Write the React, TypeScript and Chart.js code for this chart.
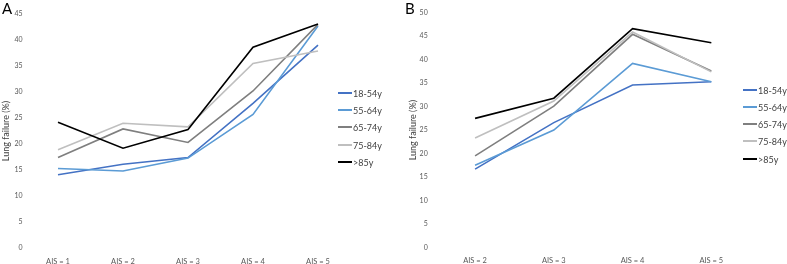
import React, { useEffect, useRef } from "react";
import { Chart, registerables } from "chart.js";
Chart.register(...registerables);

const seriesLabels = ["18-54y", "55-64y", "65-74y", "75-84y", ">85y"];
const seriesColors = ["#4472C4", "#5B9BD5", "#7F7F7F", "#BFBFBF", "#000000"];

// Panel A
const categoriesA = ["AIS = 1", "AIS = 2", "AIS = 3", "AIS = 4", "AIS = 5"];
const a18to54 = [14.1, 16.1, 17.4, 27.8, 39.0];
const a55to64 = [15.3, 14.8, 17.3, 25.7, 42.7];
const a65to74 = [17.4, 22.9, 20.3, 30.2, 43.0];
const a75to84 = [18.9, 24.0, 23.3, 35.5, 37.9];
const aOver85 = [24.2, 19.2, 22.8, 38.6, 43.1];

// Panel B
const categoriesB = ["AIS = 2", "AIS = 3", "AIS = 4", "AIS = 5"];
const b18to54 = [16.7, 26.6, 34.6, 35.3];
const b55to64 = [17.5, 25.0, 39.2, 35.3];
const b65to74 = [19.5, 30.1, 45.4, 37.6];
const b75to84 = [23.3, 31.2, 45.9, 37.4];
const bOver85 = [27.5, 31.8, 46.6, 43.6];

const FONT = "Lato, 'Open Sans', sans-serif";

type PanelProps = {
  left: number;
  width: number;
  categories: string[];
  series: number[][];
  yMax: number;
  padTop: number;
  padRight: number;
  yAxisWidth: number;
  xAxisHeight: number;
  tickPad: number;
  titlePadTop: number;
  letter: string;
  letterX: number;
  legendX: number;
  legendY: number[];
};

function Panel(p: PanelProps) {
  const ref = useRef<HTMLCanvasElement | null>(null);
  useEffect(() => {
    if (!ref.current) return;
    const chart = new Chart(ref.current, {
      type: "line",
      data: {
        labels: p.categories,
        datasets: p.series.map((d, i) => ({
          label: seriesLabels[i],
          data: d,
          borderColor: seriesColors[i],
          backgroundColor: seriesColors[i],
          borderWidth: 1.6,
          pointRadius: 0,
          tension: 0,
          order: 4 - i,
        })),
      },
      options: {
        animation: false,
        responsive: false,
        devicePixelRatio: 1,
        layout: { padding: { top: p.padTop, right: p.padRight, left: 0, bottom: 0 } },
        plugins: { legend: { display: false }, tooltip: { enabled: false } },
        scales: {
          x: {
            type: "category",
            offset: true,
            grid: { display: false, drawTicks: false },
            border: { display: false },
            ticks: {
              padding: 9,
              color: "#595959",
              font: { family: FONT, size: 7.5 },
              maxRotation: 0,
              autoSkip: false,
            },
            afterFit: (s: any) => {
              s.height = p.xAxisHeight;
            },
          },
          y: {
            min: 0,
            max: p.yMax,
            grid: { display: false, drawTicks: false },
            border: { display: false },
            ticks: {
              stepSize: 5,
              padding: p.tickPad,
              color: "#595959",
              font: { family: FONT, size: 7 },
            },
            title: {
              display: true,
              text: "Lung failure (%)",
              color: "#404040",
              font: { family: FONT, size: 9 },
              padding: { top: p.titlePadTop, bottom: 0 },
            },
            afterFit: (s: any) => {
              s.width = p.yAxisWidth;
            },
          },
        },
      },
    });
    return () => chart.destroy();
  }, []);
  return (
    <div style={{ position: "absolute", left: p.left, top: 0, width: p.width, height: 264 }}>
      <canvas ref={ref} width={p.width} height={264} style={{ position: "absolute", left: 0, top: 0 }} />
      <div
        style={{
          position: "absolute",
          left: p.letterX,
          top: 0,
          fontFamily: FONT,
          fontSize: 15,
          color: "#000",
          lineHeight: "16px",
        }}
      >
        {p.letter}
      </div>
      {seriesLabels.map((lab, i) => (
        <div
          key={lab}
          style={{
            position: "absolute",
            left: p.legendX,
            top: p.legendY[i] - 6,
            height: 12,
            display: "flex",
            alignItems: "center",
            fontFamily: FONT,
            fontSize: 9,
            color: "#404040",
            whiteSpace: "nowrap",
          }}
        >
          <div style={{ width: 14, height: 2, background: seriesColors[i], marginRight: 1 }} />
          <span>{lab}</span>
        </div>
      ))}
    </div>
  );
}

export default function App() {
  return (
    <div style={{ position: "fixed", left: 0, top: 0, width: 787, height: 264, background: "#fff" }}>
      <Panel
        left={0}
        width={390}
        categories={categoriesA}
        series={[a18to54, a55to64, a65to74, a75to84, aOver85]}
        yMax={45}
        padTop={14}
        padRight={39.5}
        yAxisWidth={25.5}
        xAxisHeight={16}
        tickPad={3}
        titlePadTop={1}
        letter="A"
        letterX={2}
        legendX={338}
        legendY={[93, 110, 127, 145, 162]}
      />
      <Panel
        left={390}
        width={397}
        categories={categoriesB}
        series={[b18to54, b55to64, b65to74, b75to84, bOver85]}
        yMax={50}
        padTop={12.7}
        padRight={36.3}
        yAxisWidth={45.7}
        xAxisHeight={16.5}
        tickPad={8}
        titlePadTop={18}
        letter="B"
        letterX={15}
        legendX={353}
        legendY={[90, 107, 124, 141, 159]}
      />
    </div>
  );
}
